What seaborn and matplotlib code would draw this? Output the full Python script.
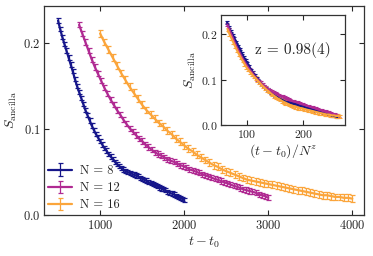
import numpy as np
import pandas as pd
import matplotlib
matplotlib.use("Agg")
import matplotlib.pyplot as plt
import seaborn as sns

# system sizes and colours
sizes = [8, 12, 16]
colors = ["#16168a", "#b02a92", "#fba53b"]
z_exp = 0.98

# t - t0 grids (61 points each)
t_8 = np.arange(500, 2000 + 1, 25)
t_12 = np.arange(750, 3000 + 1, 37.5)
t_16 = np.arange(1000, 4000 + 1, 50)

s_8 = [0.226, 0.216, 0.207, 0.199, 0.191, 0.183, 0.175, 0.167, 0.158, 0.150,
       0.143, 0.136, 0.129, 0.122, 0.116, 0.110, 0.104, 0.099, 0.094, 0.090,
       0.086, 0.082, 0.078, 0.075, 0.071, 0.068, 0.065, 0.062, 0.059, 0.057,
       0.055, 0.053, 0.051, 0.050, 0.049, 0.048, 0.047, 0.046, 0.045, 0.043,
       0.042, 0.041, 0.040, 0.038, 0.037, 0.036, 0.035, 0.034, 0.032, 0.031,
       0.030, 0.029, 0.027, 0.026, 0.025, 0.024, 0.022, 0.021, 0.020, 0.019,
       0.0175]
s_12 = [0.221, 0.211, 0.201, 0.191, 0.181, 0.172, 0.164, 0.156, 0.148, 0.141,
        0.134, 0.128, 0.122, 0.117, 0.111, 0.106, 0.101, 0.097, 0.093, 0.089,
        0.086, 0.082, 0.079, 0.076, 0.073, 0.071, 0.069, 0.067, 0.065, 0.063,
        0.062, 0.060, 0.058, 0.057, 0.055, 0.053, 0.052, 0.0505, 0.049, 0.0475,
        0.046, 0.045, 0.0435, 0.042, 0.041, 0.0395, 0.038, 0.037, 0.0355, 0.034,
        0.033, 0.0315, 0.030, 0.029, 0.028, 0.027, 0.026, 0.024, 0.023, 0.022,
        0.020]
s_16 = [0.211, 0.201, 0.192, 0.183, 0.174, 0.165, 0.157, 0.149, 0.142, 0.135,
        0.128, 0.122, 0.117, 0.112, 0.107, 0.103, 0.098, 0.094, 0.089, 0.085,
        0.081, 0.077, 0.074, 0.070, 0.067, 0.064, 0.061, 0.058, 0.056, 0.053,
        0.051, 0.049, 0.047, 0.045, 0.043, 0.041, 0.040, 0.039, 0.038, 0.037,
        0.036, 0.035, 0.034, 0.033, 0.032, 0.031, 0.030, 0.029, 0.028, 0.027,
        0.026, 0.025, 0.024, 0.023, 0.023, 0.022, 0.021, 0.021, 0.020, 0.020,
        0.019]
errs = [0.0025, 0.003, 0.004]

frames = []
for n, t, s, e in zip(sizes, [t_8, t_12, t_16], [s_8, s_12, s_16], errs):
    frames.append(pd.DataFrame({"N": n, "t": t, "S": s, "err": e}))
df = pd.concat(frames, ignore_index=True)
df["u"] = df["t"] / df["N"] ** z_exp

sns.set_style("ticks")
plt.rcParams["font.family"] = ["cmr10", "DejaVu Serif"]
plt.rcParams["mathtext.fontset"] = "cm"
plt.rcParams["axes.formatter.use_mathtext"] = True
plt.rcParams["axes.unicode_minus"] = False

fig = plt.figure(figsize=(3.73, 2.56), dpi=100)
ax = fig.add_axes([0.118, 0.160, 0.858, 0.817])
ins = fig.add_axes([0.592, 0.512, 0.333, 0.430])

for (n, g), c in zip(df.groupby("N"), colors):
    ax.errorbar(g["t"], g["S"], yerr=g["err"], color=c, lw=1.6,
                elinewidth=0.9, capsize=1.8, capthick=0.9, label=f"N = {n}")
    ins.errorbar(g["u"], g["S"], yerr=g["err"], color=c, lw=1.6,
                 elinewidth=0.8, capsize=1.3, capthick=0.8)

ax.set_xlim(333, 4140)
ax.set_ylim(0, 0.243)
ax.set_xticks([1000, 2000, 3000, 4000])
ax.set_yticks([0.0, 0.1, 0.2])
ax.set_xlabel(r"$t - t_0$", fontsize=10, labelpad=2)
ax.set_ylabel(r"$S_{\rm ancilla}$", fontsize=10, labelpad=3)

ins.set_xlim(54, 274)
ins.set_ylim(0, 0.243)
ins.set_xticks([100, 200])
ins.set_yticks([0.0, 0.1, 0.2])
ins.set_xlabel(r"$(t - t_0)/N^z$", fontsize=10, labelpad=1)
ins.set_ylabel(r"$S_{\rm ancilla}$", fontsize=10, labelpad=2)
ins.text(0.58, 0.68, "z = 0.98(4)", transform=ins.transAxes,
         ha="center", va="center", fontsize=11)

for a, fs in [(ax, 9), (ins, 8.5)]:
    a.tick_params(direction="in", top=True, right=True, length=3.5,
                  width=0.8, labelsize=fs, pad=2.5)
    for sp in a.spines.values():
        sp.set_linewidth(0.9)
        sp.set_color("#333333")

ax.legend(loc="lower left", frameon=False, fontsize=9, handlelength=1.9,
          borderaxespad=0.1, labelspacing=0.4, handletextpad=0.7,
          borderpad=0.2)

fig.savefig("out.png", dpi=100)
